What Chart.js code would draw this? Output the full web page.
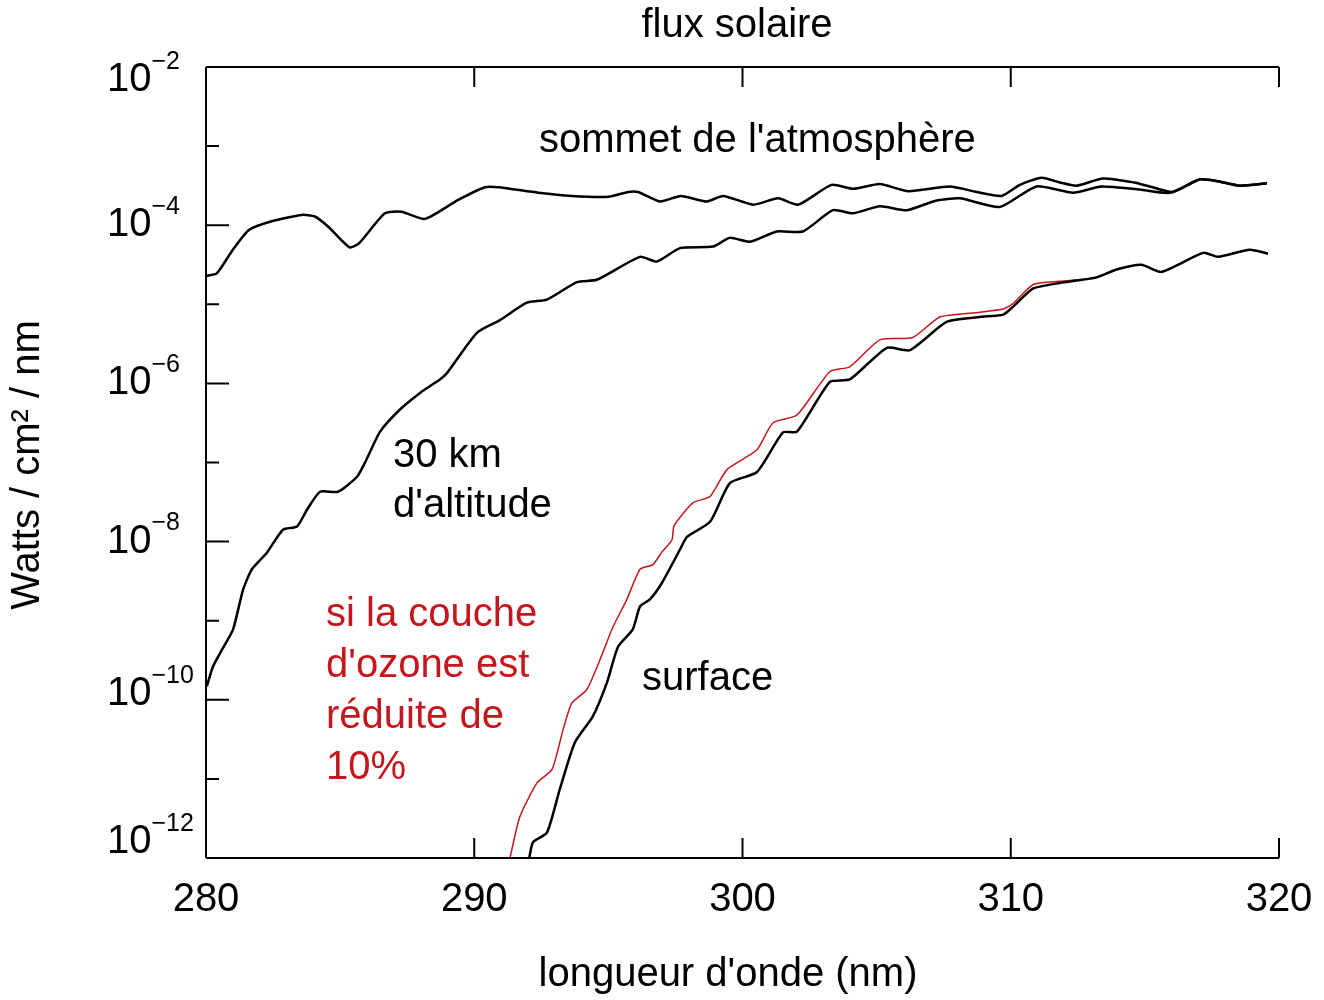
<!DOCTYPE html>
<html>
<head>
<meta charset="utf-8">
<script src="https://cdn.jsdelivr.net/npm/chart.js@4"></script>
<style>
  body { margin: 0; background: #fff; }
</style>
</head>
<body>
<canvas id="flux" width="1324" height="1000"></canvas>
<script>
// wavelengths in nm, flux given as log10(W / cm2 / nm)
const topWl = [280.0, 280.4, 281.0, 281.6, 282.45, 283.57, 284.06, 284.56, 285.35, 285.7, 286.67, 287.29, 288.16, 289.4, 290.4, 290.9,
  292.39, 293.63, 295.0, 295.74, 296.11, 296.92, 297.7, 298.66, 299.28, 300.4, 301.33, 302.08, 303.32, 304.13, 305.12, 306.18,
  307.73, 308.73, 309.66, 310.34, 311.15, 311.83, 312.45, 313.44, 314.6, 315.18, 316.05, 317.05, 317.67, 318.54, 319.55];
const topLog = [-4.64, -4.61, -4.31, -4.06, -3.95, -3.87, -3.89, -4.02, -4.28, -4.23, -3.85, -3.83, -3.92, -3.68, -3.52, -3.52,
  -3.59, -3.63, -3.64, -3.58, -3.58, -3.70, -3.63, -3.70, -3.63, -3.74, -3.66, -3.74, -3.49, -3.54, -3.48, -3.57,
  -3.51, -3.58, -3.63, -3.49, -3.40, -3.46, -3.50, -3.41, -3.46, -3.51, -3.58, -3.42, -3.44, -3.50, -3.47];

const altWl = [280.03, 280.26, 280.59, 281.01, 281.38, 281.71, 282.27, 282.87, 283.39, 283.76, 284.25, 284.92, 285.63, 285.93,
  286.49, 287.23, 287.98, 288.72, 288.98, 290.1, 290.96, 291.96, 292.71, 293.83, 294.57, 296.18, 296.81, 297.67, 298.9,
  299.53, 300.28, 301.28, 302.25, 303.37, 304.11, 305.12, 306.13, 307.2, 308.1, 309.59, 310.96, 312.33, 313.38, 314.81,
  315.93, 317.05, 317.67, 318.54, 319.55];
const altLog = [-9.83, -9.58, -9.37, -9.11, -8.61, -8.35, -8.14, -7.85, -7.81, -7.60, -7.37, -7.37, -7.18, -7.00,
  -6.61, -6.33, -6.12, -5.95, -5.87, -5.36, -5.20, -4.98, -4.94, -4.72, -4.69, -4.40, -4.46, -4.29, -4.27,
  -4.16, -4.21, -4.08, -4.08, -3.81, -3.85, -3.76, -3.81, -3.69, -3.66, -3.77, -3.51, -3.59, -3.51, -3.55,
  -3.59, -3.42, -3.44, -3.50, -3.47];

const surfWl = [292.05, 292.19, 292.71, 293.19, 293.75, 294.42, 294.95, 295.36, 295.91, 296.18, 296.55, 297.0, 297.67, 297.93,
  298.79, 299.53, 300.54, 301.51, 302.03, 303.26, 304.0, 305.38, 306.24, 307.62, 308.85, 309.72, 310.09, 310.84, 311.83,
  313.2, 313.94, 314.87, 315.62, 317.17, 317.73, 318.91, 319.59];
const surfLog = [-12.0, -11.8, -11.68, -11.13, -10.54, -10.21, -9.78, -9.33, -9.11, -8.82, -8.73, -8.52, -8.10, -7.94,
  -7.75, -7.26, -7.12, -6.62, -6.61, -5.98, -5.95, -5.55, -5.58, -5.22, -5.16, -5.13, -5.03, -4.80, -4.73,
  -4.66, -4.56, -4.50, -4.59, -4.35, -4.40, -4.31, -4.36];

const ozoneWl = [291.33, 291.7, 292.34, 292.9, 293.31, 293.64, 294.2, 294.69, 295.17, 295.69, 296.18, 296.66, 297.0, 297.37,
  297.45, 298.15, 298.79, 299.42, 300.54, 301.13, 302.03, 303.26, 304.0, 305.12, 306.35, 307.36, 308.85, 309.72, 310.09,
  310.84, 311.83, 313.2, 313.94, 314.87, 315.62, 317.17, 317.73, 318.91, 319.59];
const ozoneLog = [-12.0, -11.48, -11.05, -10.88, -10.38, -10.04, -9.87, -9.49, -9.08, -8.73, -8.35, -8.29, -8.13, -7.98,
  -7.80, -7.51, -7.43, -7.09, -6.84, -6.50, -6.40, -5.85, -5.79, -5.45, -5.42, -5.16, -5.10, -5.06, -4.99,
  -4.75, -4.71, -4.66, -4.56, -4.50, -4.59, -4.35, -4.40, -4.31, -4.36];

const xTicks = [280, 290, 300, 310, 320];
const yMajorExp = [-2, -4, -6, -8, -10, -12];
const yMinorExp = [-3, -5, -7, -9, -11];

const FONT = "'Liberation Sans', Arial, sans-serif";
const RED = '#c4161c';

function toPoints(wl, logs) {
  return wl.map((w, i) => ({ x: w, y: Math.pow(10, logs[i]) }));
}

const frame = {
  id: 'frame',
  afterDatasetsDraw(chart) {
    const { ctx, chartArea: a, scales: { x, y } } = chart;
    ctx.save();
    ctx.strokeStyle = '#000';
    ctx.lineWidth = 2;
    ctx.beginPath();
    ctx.moveTo(a.left, a.top); ctx.lineTo(a.right, a.top);
    ctx.moveTo(a.left, a.top); ctx.lineTo(a.left, a.bottom);
    ctx.moveTo(a.left, a.bottom); ctx.lineTo(a.right, a.bottom);
    xTicks.forEach((v) => {
      const px = x.getPixelForValue(v);
      ctx.moveTo(px, a.bottom); ctx.lineTo(px, a.bottom - 20);
      ctx.moveTo(px, a.top); ctx.lineTo(px, a.top + 20);
    });
    yMajorExp.forEach((e) => {
      const py = y.getPixelForValue(Math.pow(10, e));
      ctx.moveTo(a.left, py); ctx.lineTo(a.left + 23, py);
    });
    yMinorExp.forEach((e) => {
      const py = y.getPixelForValue(Math.pow(10, e));
      ctx.moveTo(a.left, py); ctx.lineTo(a.left + 13, py);
    });
    ctx.stroke();

    ctx.fillStyle = '#000';
    ctx.textBaseline = 'middle';

    // x tick labels
    ctx.font = '40px ' + FONT;
    ctx.textAlign = 'center';
    xTicks.forEach((v) => ctx.fillText(String(v), x.getPixelForValue(v), 900));

    // y tick labels: 10 with superscript exponent
    ctx.textAlign = 'left';
    yMajorExp.forEach((e, i) => {
      let py = y.getPixelForValue(Math.pow(10, e));
      if (i === 0) py += 13;
      if (e === -10) py -= 6;
      if (i === yMajorExp.length - 1) py -= 16;
      ctx.font = '40px ' + FONT;
      ctx.fillText('10', 107, py);
      const w = ctx.measureText('10').width;
      ctx.font = '25px ' + FONT;
      ctx.fillText('\u2212' + Math.abs(e), 107 + w, py - 18);
    });

    // titles
    ctx.font = '40px ' + FONT;
    ctx.textAlign = 'center';
    ctx.fillText('flux solaire', 737, 26);
    ctx.fillText("longueur d'onde (nm)", 728, 975);
    ctx.save();
    ctx.translate(28, 465);
    ctx.rotate(-Math.PI / 2);
    ctx.fillText('Watts / cm\u00b2 / nm', 0, 0);
    ctx.restore();

    // curve annotations
    ctx.textAlign = 'left';
    ctx.textBaseline = 'alphabetic';
    ctx.fillText("sommet de l'atmosph\u00e8re", 539, 152);
    ctx.fillText('30 km', 393, 467);
    ctx.fillText("d'altitude", 393, 517);
    ctx.fillText('surface', 642, 690);
    ctx.fillStyle = RED;
    ['si la couche', "d'ozone est", 'r\u00e9duite de', '10%'].forEach((t, i) => {
      ctx.fillText(t, 326, 626 + i * 51);
    });
    ctx.restore();
  }
};

const lineStyle = {
  pointRadius: 0,
  fill: false,
  tension: 0.2,
};

new Chart(document.getElementById('flux'), {
  type: 'line',
  data: {
    datasets: [
      { label: 'sommet', data: toPoints(topWl, topLog), borderColor: '#000', borderWidth: 2.5, order: 0, ...lineStyle },
      { label: '30 km', data: toPoints(altWl, altLog), borderColor: '#000', borderWidth: 2.5, order: 0, ...lineStyle },
      { label: 'surface', data: toPoints(surfWl, surfLog), borderColor: '#000', borderWidth: 2.5, order: 0, ...lineStyle },
      { label: 'ozone -10%', data: toPoints(ozoneWl, ozoneLog), borderColor: RED, borderWidth: 1.5, order: 1, ...lineStyle },
    ],
  },
  options: {
    responsive: false,
    animation: false,
    devicePixelRatio: 1,
    layout: { padding: { left: 206, right: 45, top: 67, bottom: 142 } },
    plugins: {
      legend: { display: false },
      tooltip: { enabled: false },
    },
    scales: {
      x: { type: 'linear', min: 280, max: 320, display: false },
      y: { type: 'logarithmic', min: 1e-12, max: 1e-2, display: false },
    },
  },
  plugins: [frame],
});
</script>
</body>
</html>
